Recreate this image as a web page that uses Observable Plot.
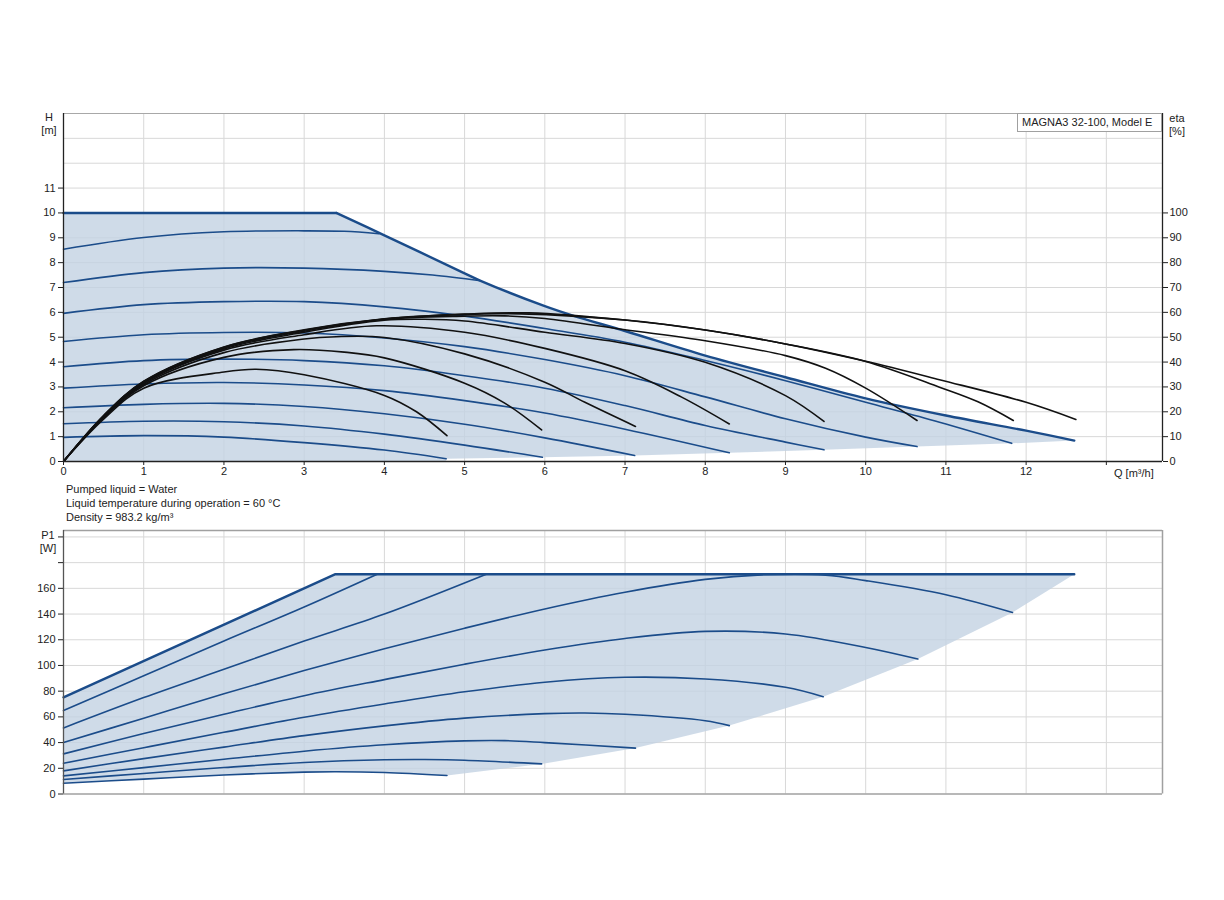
<!DOCTYPE html>
<html><head><meta charset="utf-8">
<script src="https://cdn.jsdelivr.net/npm/d3@7"></script>
<script src="https://cdn.jsdelivr.net/npm/@observablehq/plot@0.6"></script>
<style>
body{margin:0;background:#fff;font-family:"Liberation Sans",Arial,sans-serif;}
#wrap{position:relative;width:1224px;height:900px;overflow:hidden;}
#wrap svg{position:absolute;left:0;}
.lbl{position:absolute;font-size:11px;color:#222;line-height:13px;text-align:center;width:30px;}
.note{position:absolute;left:66px;top:482px;font-size:11px;color:#222;line-height:14px;}
.box{position:absolute;left:1017px;top:113px;width:145px;height:19px;border:1px solid #a0a0a0;font-size:11px;color:#222;padding-left:4px;box-sizing:border-box;line-height:17px;background:#fff;}
</style></head><body>
<div id="wrap"></div>
<script>
// ---------- tick values / labels ----------
const qTicks = [0,1,2,3,4,5,6,7,8,9,10,11,12,13];
const qTickLabels = ["0","1","2","3","4","5","6","7","8","9","10","11","12",""];
const hTicks = [0,1,2,3,4,5,6,7,8,9,10,11];
const hGrid = [1,2,3,4,5,6,7,8,9,10,11,12,13];
const etaTicks = [0,10,20,30,40,50,60,70,80,90,100];
const p1Ticks = [0,20,40,60,80,100,120,140,160,180,200];
const p1TickLabels = ["0","20","40","60","80","100","120","140","160","",""];

// ---------- head curves H [m] vs Q [m3/h] ----------
const headMax = [[0,10],[3.4,10],[4,9.1],[5,7.57],[5.2,7.27],[6,6.25],[6.36,5.86],[7,5.25],[8,4.26],[9,3.39],[10,2.54],[11,1.85],[12,1.24],[12.6,0.84]];
const headI = [[0,8.54],[1,9.01],[2,9.24],[3,9.28],[3.5,9.26],[3.93,9.16]];
const headH = [[0,7.2],[1,7.6],[2,7.78],[3,7.78],[4,7.65],[4.6,7.5],[5.2,7.27]];
const headG = [[0,5.96],[1,6.31],[2,6.43],[3,6.43],[4,6.22],[5,5.85],[6,5.35],[7,4.8],[8,4.06],[9,3.25],[10,2.38],[10.92,1.58],[11.82,0.73]];
const headF = [[0,4.83],[1,5.1],[2,5.19],[3,5.17],[4,4.97],[5,4.62],[6,4.1],[7,3.45],[8,2.6],[9,1.72],[10,0.98],[10.64,0.6]];
const headE = [[0,3.81],[1,4.06],[2,4.12],[3,4.06],[4,3.85],[5,3.45],[6,2.95],[7,2.25],[8,1.45],[9,0.78],[9.48,0.47]];
const headD = [[0,2.95],[1,3.12],[2,3.18],[3,3.08],[4,2.85],[5,2.45],[6,1.95],[7,1.3],[8.3,0.35]];
const headC = [[0,2.16],[1,2.3],[2,2.34],[3,2.21],[4,1.92],[5,1.5],[6,0.95],[7.12,0.24]];
const headB = [[0,1.52],[1,1.62],[2,1.6],[3,1.43],[4,1.1],[5,0.66],[5.97,0.17]];
const headA = [[0,0.97],[1,1.04],[2,0.98],[3,0.76],[4,0.46],[4.77,0.11]];
const headLower = [[4.77,0.11],[5.97,0.17],[7.12,0.24],[8.3,0.35],[9.48,0.47],[10.64,0.6],[11.82,0.73],[12.6,0.84]];

// ---------- efficiency curves eta [%] ----------
const etaA = [[0,0],[0.5,17],[1,29.5],[2,36],[2.4,37.1],[3,34.9],[4,26.6],[4.4,20],[4.78,10.4]];
const etaB = [[0,0],[0.5,17.5],[1,30.5],[2,41.9],[2.87,45],[3.5,44],[4,41.7],[5,31.5],[5.5,23.5],[5.96,12.7]];
const etaC = [[0,0],[0.5,18],[1,31],[2,43.8],[3,49.3],[3.4,50.2],[4,49.9],[5,43.3],[6,31.9],[6.5,23.8],[7.13,14.1]];
const etaD = [[0,0],[0.5,18],[1,31.5],[2,44.8],[3,51],[3.9,54.6],[5,52],[6,45.5],[7,36.5],[7.7,26],[8.3,15.1]];
const etaE = [[0,0],[0.5,18.2],[1,31.8],[2,45.3],[3,52],[4,56.8],[4.5,57.2],[5,56.5],[6,52],[7,47.5],[8,39.9],[9,26.5],[9.48,16.1]];
const etaF = [[0,0],[0.5,18.3],[1,32],[2,45.7],[3,52.4],[4,57.2],[5,58.5],[5.5,58.6],[6,57.5],[7,53],[8,48.6],[9,42.6],[9.5,37.5],[10,29.5],[10.64,16.5]];
const etaG = [[0,0],[0.5,18.4],[1,32.2],[2,46],[3,52.8],[4,57.3],[5,59.2],[5.7,59.4],[7,56.9],[8,52.9],[9,47.3],[10,40.2],[10.92,29.9],[11.4,24],[11.84,16.5]];
const etaH = [[0,0],[0.5,18.5],[1,32.3],[2,46.1],[3,53],[4,57.4],[5,59.3],[5.8,59.8],[7,56.9],[8,52.9],[9,47.3],[10,40.3],[10.92,32.9],[12,23.8],[12.62,16.9]];

// ---------- power curves P1 [W] ----------
const powerMax = [[0,75.2],[3.39,171],[12.6,171]];
const powerI = [[0,64.9],[1,92],[2,119],[3,145.5],[3.91,171]];
const powerH = [[0,51.4],[1,75],[2,97],[3,119],[4,140],[5.27,171]];
const powerG = [[0,40],[1,59],[2,78],[3,96],[4,113],[5,129],[6,144],[7,157],[8,167],[8.7,170.5],[9.5,170.3],[10,166],[11,155],[11.83,141.2]];
const powerF = [[0,31.2],[1,47],[2,62],[3,76.5],[4,89],[5,101],[6,112],[7,121],[8,126.5],[9,124.5],[10,114],[10.65,105]];
const powerE = [[0,23.9],[1,36],[2,48],[3,59.7],[4,70],[5,79.5],[6,87],[7,90.8],[8,89.5],[9,83],[9.47,75.7]];
const powerD = [[0,18],[1,27.5],[2,36.5],[3,45.4],[4,53],[5,59],[6,62.5],[6.5,63],[7,62],[8,57],[8.3,53.2]];
const powerC = [[0,14.1],[1,20.5],[2,27],[3,33.3],[4,38.3],[5,41.3],[5.5,41.5],[6,40],[7.13,35.7]];
const powerB = [[0,11.3],[1,16],[2,20.6],[3,24.5],[4,26.6],[4.5,26.8],[5,26.3],[5.96,23.4]];
const powerA = [[0,8.4],[1,11.6],[2,14.8],[3,17],[3.4,17.3],[4,16.7],[4.78,14.4]];
const powerLower = [[4.78,14.4],[5.96,23.4],[7.13,35.7],[8.3,53.2],[9.47,75.7],[10.65,105],[11.83,141.2],[12.6,170.5]];

// ---------- build tables ----------
const rows = (name, arr) => arr.map(([q, v]) => ({name, q, v}));
const headSeries = [].concat(rows("I",headI),rows("H",headH),rows("G",headG),rows("F",headF),rows("E",headE),rows("D",headD),rows("C",headC),rows("B",headB),rows("A",headA));
const etaSeries = [].concat(rows("a",etaA),rows("b",etaB),rows("c",etaC),rows("d",etaD),rows("e",etaE),rows("f",etaF),rows("g",etaG),rows("h",etaH));
const powerSeries = [].concat(rows("I",powerI),rows("H",powerH),rows("G",powerG),rows("F",powerF),rows("E",powerE),rows("D",powerD),rows("C",powerC),rows("B",powerB),rows("A",powerA));
const maxFlat = rows("max", headMax.filter(d => d[0] <= 3.4));
const maxFall = rows("max", headMax.filter(d => d[0] >= 3.4));
const topArea = [[0,0]].concat(headMax, headLower.slice().reverse(), [[headLower[0][0],0]]);
const bottomArea = powerMax.concat(powerLower.slice().reverse().slice(1), powerA.slice().reverse());

const BLUE = "#1b4c8a";
const FILL = "#c3d2e2";
const GRID = "#d8d8d8";
const FONT = "'Liberation Sans', Arial, sans-serif";
const XMAX = 13.7;
const CURVE = "catmull-rom";

const topPlot = Plot.plot({
  width: 1224, height: 490,
  marginLeft: 63, marginRight: 62, marginTop: 113, marginBottom: 29,
  x: {domain: [0, XMAX], axis: null},
  y: {domain: [0, 14], axis: null},
  style: {fontFamily: FONT, fontSize: "11px", color: "#222", background: "transparent"},
  marks: [
    Plot.gridX(qTicks.slice(1), {stroke: GRID, strokeOpacity: 1}),
    Plot.gridY(hGrid, {stroke: GRID, strokeOpacity: 1}),
    Plot.line(topArea, {x: d => d[0], y: d => d[1], fill: FILL, fillOpacity: 0.8, stroke: "none"}),
    Plot.line(headSeries, {x: "q", y: "v", z: "name", stroke: BLUE, strokeWidth: 1.6, curve: CURVE}),
    Plot.line(maxFlat, {x: "q", y: "v", stroke: BLUE, strokeWidth: 2.4}),
    Plot.line(maxFall, {x: "q", y: "v", stroke: BLUE, strokeWidth: 2.4, curve: CURVE}),
    Plot.line(etaSeries, {x: "q", y: d => d.v / 10, z: "name", stroke: "#111", strokeWidth: 1.6, curve: CURVE}),
    Plot.ruleY([14], {stroke: "#a8a8a8", strokeWidth: 1.2}),
    Plot.ruleX([0], {stroke: "#222", strokeWidth: 1.3}),
    Plot.ruleX([XMAX], {stroke: "#222", strokeWidth: 1.3}),
    Plot.ruleY([0], {stroke: "#222", strokeWidth: 1.3}),
    Plot.axisX(qTicks, {tickFormat: d => qTickLabels[d], tickSize: 4, tickPadding: 2, label: null}),
    Plot.axisY(hTicks, {anchor: "left", tickSize: 5, tickPadding: 3, label: null}),
    Plot.axisY(etaTicks.map(v => v / 10), {anchor: "right", tickSize: 5, tickPadding: 2, tickFormat: d => String(Math.round(d * 10)), label: null})
  ]
});

const bottomPlot = Plot.plot({
  width: 1224, height: 290,
  marginLeft: 63, marginRight: 62, marginTop: 10, marginBottom: 16.5,
  x: {domain: [0, XMAX], axis: null},
  y: {domain: [0, 205], axis: null},
  style: {fontFamily: FONT, fontSize: "11px", color: "#222", background: "transparent"},
  marks: [
    Plot.gridX(qTicks.slice(1), {stroke: GRID, strokeOpacity: 1}),
    Plot.gridY(p1Ticks.slice(1), {stroke: GRID, strokeOpacity: 1}),
    Plot.line(bottomArea, {x: d => d[0], y: d => d[1], fill: FILL, fillOpacity: 0.8, stroke: "none"}),
    Plot.line(powerSeries, {x: "q", y: "v", z: "name", stroke: BLUE, strokeWidth: 1.6, curve: CURVE}),
    Plot.line(rows("max", powerMax), {x: "q", y: "v", stroke: BLUE, strokeWidth: 2.4}),
    Plot.ruleY([205], {stroke: "#a0a0a0", strokeWidth: 1.5}),
    Plot.ruleX([XMAX], {stroke: "#a0a0a0", strokeWidth: 1.5}),
    Plot.ruleY([0], {stroke: "#a0a0a0", strokeWidth: 1.5}),
    Plot.ruleX([0], {stroke: "#555", strokeWidth: 1.3}),
    Plot.axisY(p1Ticks, {anchor: "left", tickSize: 5, tickPadding: 3, tickFormat: d => p1TickLabels[d / 20], label: null})
  ]
});

const wrap = document.getElementById("wrap");
topPlot.style.top = "0px";
bottomPlot.style.top = "520px";
wrap.appendChild(topPlot);
wrap.appendChild(bottomPlot);

const addDiv = (cls, html, left, top) => {
  const el = document.createElement("div");
  el.className = cls; el.innerHTML = html;
  if (left != null) el.style.left = left + "px";
  if (top != null) el.style.top = top + "px";
  wrap.appendChild(el);
};
addDiv("lbl", "H<br>[m]", 34, 111);
addDiv("lbl", "eta<br>[%]", 1162, 112);
addDiv("lbl", "P1<br>[W]", 33, 529);
const q = document.createElement("div");
q.style.cssText = "position:absolute;left:1114px;top:467px;font-size:11px;color:#222;white-space:nowrap;";
q.textContent = "Q [m³/h]";
wrap.appendChild(q);
addDiv("note", "Pumped liquid = Water<br>Liquid temperature during operation = 60 °C<br>Density = 983.2 kg/m³");
addDiv("box", "MAGNA3 32-100, Model E");
</script>
</body></html>
